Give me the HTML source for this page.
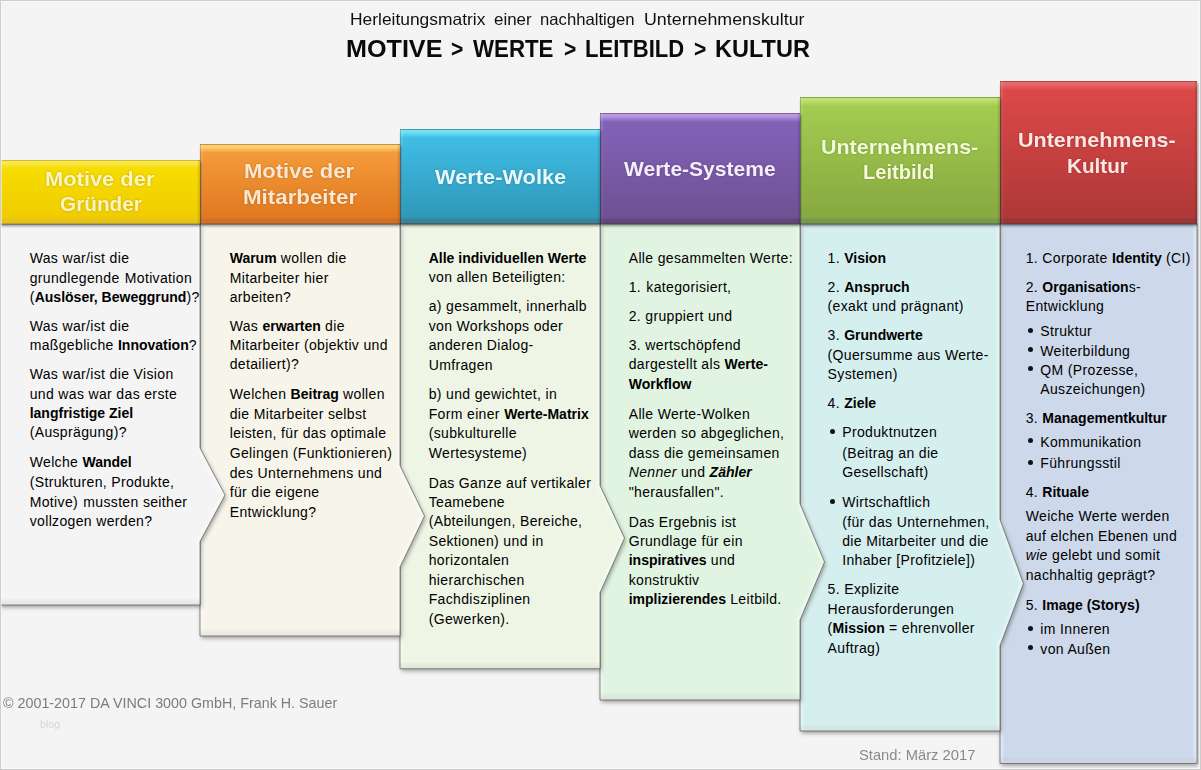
<!DOCTYPE html><html><head><meta charset="utf-8"><style>
html,body{margin:0;padding:0}
body{width:1201px;height:770px;position:relative;overflow:hidden;background:#f4f4f4;font-family:"Liberation Sans", sans-serif;}
.frame{position:absolute;left:0;top:0;width:1199px;height:768px;border:1px solid #cdcdcd;z-index:50}
.frame2{position:absolute;left:1px;top:1px;width:1197px;height:766px;border:1px solid rgba(255,255,255,.45);z-index:50}
svg{position:absolute;left:0;top:0}
.t{position:absolute;white-space:pre;font-size:14px;line-height:14px;height:14px;color:#000;}
.t .r{letter-spacing:0.35px}
.t b{letter-spacing:0px}
.wd{position:absolute;white-space:pre;transform-origin:0 0;}
.hd{position:absolute;box-sizing:border-box;}
.ht{position:absolute;white-space:pre;font-weight:bold;font-size:21.5px;line-height:21.5px;text-align:center;}
.bul{position:absolute;width:5px;height:5px;border-radius:50%;background:#111}
</style></head><body>
<div class="frame"></div><div class="frame2"></div>

<svg width="1201" height="770" viewBox="0 0 1201 770"><defs>
<filter id="bl" x="-10%" y="-10%" width="120%" height="120%"><feGaussianBlur stdDeviation="1.9"/></filter>
<filter id="bl2" x="-10%" y="-10%" width="120%" height="120%"><feGaussianBlur stdDeviation="1"/></filter>
<linearGradient id="ib" x1="0" y1="0" x2="0" y2="1"><stop offset="0" stop-color="#000" stop-opacity="0"/><stop offset="1" stop-color="#000" stop-opacity="0.09"/></linearGradient>
<linearGradient id="ir" x1="0" y1="0" x2="1" y2="0"><stop offset="0" stop-color="#000" stop-opacity="0"/><stop offset="1" stop-color="#000" stop-opacity="0.06"/></linearGradient>
<clipPath id="cp0"><path d="M-1,224 L200,224 L200,448 L225,495 L200,541.5 L200,605 L-1,605 Z"/></clipPath>
<clipPath id="cp1"><path d="M200,224 L400,224 L400,465.5 L424.5,516 L400,567 L400,636 L200,636 Z"/></clipPath>
<clipPath id="cp2"><path d="M400,224 L600,224 L600,485.5 L624.5,538 L600,592.7 L600,668.7 L400,668.7 Z"/></clipPath>
<clipPath id="cp3"><path d="M600,224 L800,224 L800,503.6 L824.5,562 L800,620 L800,700 L600,700 Z"/></clipPath>
<clipPath id="cp4"><path d="M800,224 L1000,224 L1000,519.5 L1023.4,583.6 L1000,645.7 L1000,731 L800,731 Z"/></clipPath>
<clipPath id="cp5"><path d="M1000,224 L1197,224 L1197,763.5 L1000,763.5 Z"/></clipPath>
</defs>
<path d="M1000,224 L1197,224 L1197,763.5 L1000,763.5 Z" transform="translate(1.2,2.2)" fill="#000" fill-opacity="0.36" filter="url(#bl)"/>
<path d="M1000,224 L1197,224 L1197,763.5 L1000,763.5 Z" fill="#cdd9eb"/>
<g clip-path="url(#cp5)"><path d="M1000,212 L1197,212 L1197,763.5 L1000,763.5 Z" fill="none" stroke="#fff" stroke-opacity="0.4" stroke-width="6" filter="url(#bl2)"/><rect x="1000" y="756.5" width="227" height="7" fill="url(#ib)"/></g>
<path d="M1000,224 L1197,224 L1197,763.5 L1000,763.5 Z" fill="none" stroke="#555" stroke-opacity="0.68" stroke-width="1"/>
<path d="M800,224 L1000,224 L1000,519.5 L1023.4,583.6 L1000,645.7 L1000,731 L800,731 Z" transform="translate(1.2,2.2)" fill="#000" fill-opacity="0.36" filter="url(#bl)"/>
<path d="M800,224 L1000,224 L1000,519.5 L1023.4,583.6 L1000,645.7 L1000,731 L800,731 Z" fill="#d5eeee"/>
<g clip-path="url(#cp4)"><path d="M800,212 L1000,212 L1000,519.5 L1023.4,583.6 L1000,645.7 L1000,731 L800,731 Z" fill="none" stroke="#fff" stroke-opacity="0.4" stroke-width="6" filter="url(#bl2)"/><rect x="800" y="724" width="230" height="7" fill="url(#ib)"/></g>
<path d="M800,224 L1000,224 L1000,519.5 L1023.4,583.6 L1000,645.7 L1000,731 L800,731 Z" fill="none" stroke="#555" stroke-opacity="0.68" stroke-width="1"/>
<path d="M600,224 L800,224 L800,503.6 L824.5,562 L800,620 L800,700 L600,700 Z" transform="translate(1.2,2.2)" fill="#000" fill-opacity="0.36" filter="url(#bl)"/>
<path d="M600,224 L800,224 L800,503.6 L824.5,562 L800,620 L800,700 L600,700 Z" fill="#e0f4e1"/>
<g clip-path="url(#cp3)"><path d="M600,212 L800,212 L800,503.6 L824.5,562 L800,620 L800,700 L600,700 Z" fill="none" stroke="#fff" stroke-opacity="0.4" stroke-width="6" filter="url(#bl2)"/><rect x="600" y="693" width="230" height="7" fill="url(#ib)"/></g>
<path d="M600,224 L800,224 L800,503.6 L824.5,562 L800,620 L800,700 L600,700 Z" fill="none" stroke="#555" stroke-opacity="0.68" stroke-width="1"/>
<path d="M400,224 L600,224 L600,485.5 L624.5,538 L600,592.7 L600,668.7 L400,668.7 Z" transform="translate(1.2,2.2)" fill="#000" fill-opacity="0.36" filter="url(#bl)"/>
<path d="M400,224 L600,224 L600,485.5 L624.5,538 L600,592.7 L600,668.7 L400,668.7 Z" fill="#eef5e4"/>
<g clip-path="url(#cp2)"><path d="M400,212 L600,212 L600,485.5 L624.5,538 L600,592.7 L600,668.7 L400,668.7 Z" fill="none" stroke="#fff" stroke-opacity="0.4" stroke-width="6" filter="url(#bl2)"/><rect x="400" y="661.7" width="230" height="7" fill="url(#ib)"/></g>
<path d="M400,224 L600,224 L600,485.5 L624.5,538 L600,592.7 L600,668.7 L400,668.7 Z" fill="none" stroke="#555" stroke-opacity="0.68" stroke-width="1"/>
<path d="M200,224 L400,224 L400,465.5 L424.5,516 L400,567 L400,636 L200,636 Z" transform="translate(1.2,2.2)" fill="#000" fill-opacity="0.36" filter="url(#bl)"/>
<path d="M200,224 L400,224 L400,465.5 L424.5,516 L400,567 L400,636 L200,636 Z" fill="#f7f5ea"/>
<g clip-path="url(#cp1)"><path d="M200,212 L400,212 L400,465.5 L424.5,516 L400,567 L400,636 L200,636 Z" fill="none" stroke="#fff" stroke-opacity="0.4" stroke-width="6" filter="url(#bl2)"/><rect x="200" y="629" width="230" height="7" fill="url(#ib)"/></g>
<path d="M200,224 L400,224 L400,465.5 L424.5,516 L400,567 L400,636 L200,636 Z" fill="none" stroke="#555" stroke-opacity="0.68" stroke-width="1"/>
<path d="M-1,224 L200,224 L200,448 L225,495 L200,541.5 L200,605 L-1,605 Z" transform="translate(1.2,2.2)" fill="#000" fill-opacity="0.36" filter="url(#bl)"/>
<path d="M-1,224 L200,224 L200,448 L225,495 L200,541.5 L200,605 L-1,605 Z" fill="#f4f4f4"/>
<g clip-path="url(#cp0)"><path d="M-1,212 L200,212 L200,448 L225,495 L200,541.5 L200,605 L-1,605 Z" fill="none" stroke="#fff" stroke-opacity="0.4" stroke-width="6" filter="url(#bl2)"/><rect x="-1" y="598" width="231" height="7" fill="url(#ib)"/></g>
<path d="M-1,224 L200,224 L200,448 L225,495 L200,541.5 L200,605 L-1,605 Z" fill="none" stroke="#555" stroke-opacity="0.68" stroke-width="1"/>
</svg>
<div class="hd" style="left:-1px;top:160px;width:201px;height:64px;background:linear-gradient(180deg,#a89018 0px,#fae84a 1px,#fae84a 3px,#f6dc00 9px,#f0cc00 calc(100% - 6px),#e6c21c calc(100% - 5px),#e6c21c calc(100% - 1.5px),#a89018 100%);box-shadow:1px 2px 2.5px rgba(0,0,0,.42), inset 1px 0 0 rgba(0,0,0,.18), inset 3px 0 2px rgba(255,255,255,.12), inset -2px 0 1px rgba(0,0,0,.12);z-index:20"></div>
<div class="wd" style="left:45.30px;top:168.02px;font-size:21px;line-height:21px;font-weight:bold;color:#fdf5c0;transform:scaleX(1.0419);z-index:30;text-shadow:0 0 2px rgba(0,0,0,.28)">Motive der</div>
<div class="wd" style="left:60.00px;top:193.02px;font-size:21px;line-height:21px;font-weight:bold;color:#fdf5c0;transform:scaleX(0.9880);z-index:30;text-shadow:0 0 2px rgba(0,0,0,.28)">Gründer</div>
<div class="hd" style="left:200px;top:144px;width:200px;height:80px;background:linear-gradient(180deg,#905020 0px,#fcd070 1px,#fcd070 3px,#f49a3a 9px,#e07820 calc(100% - 6px),#d07028 calc(100% - 5px),#d07028 calc(100% - 1.5px),#905020 100%);box-shadow:1px 2px 2.5px rgba(0,0,0,.42), inset 1px 0 0 rgba(0,0,0,.18), inset 3px 0 2px rgba(255,255,255,.12), inset -2px 0 1px rgba(0,0,0,.12);z-index:19"></div>
<div class="wd" style="left:244.00px;top:159.72px;font-size:21px;line-height:21px;font-weight:bold;color:#fde7cc;transform:scaleX(1.0476);z-index:30;text-shadow:0 0 2px rgba(0,0,0,.28)">Motive der</div>
<div class="wd" style="left:243.00px;top:185.92px;font-size:21px;line-height:21px;font-weight:bold;color:#fde7cc;transform:scaleX(1.0626);z-index:30;text-shadow:0 0 2px rgba(0,0,0,.28)">Mitarbeiter</div>
<div class="hd" style="left:400px;top:129px;width:200px;height:95px;background:linear-gradient(180deg,#2a5060 0px,#72e2f6 1px,#72e2f6 3px,#40bce4 9px,#2e98b8 calc(100% - 6px),#3a8098 calc(100% - 5px),#3a8098 calc(100% - 1.5px),#2a5060 100%);box-shadow:1px 2px 2.5px rgba(0,0,0,.42), inset 1px 0 0 rgba(0,0,0,.18), inset 3px 0 2px rgba(255,255,255,.12), inset -2px 0 1px rgba(0,0,0,.12);z-index:18"></div>
<div class="wd" style="left:435.00px;top:165.52px;font-size:21px;line-height:21px;font-weight:bold;color:#e8f8fc;transform:scaleX(1.0381);z-index:30;text-shadow:0 0 2px rgba(0,0,0,.28)">Werte-Wolke</div>
<div class="hd" style="left:600px;top:113px;width:200px;height:111px;background:linear-gradient(180deg,#483458 0px,#b898e0 1px,#b898e0 3px,#8262b8 9px,#6e5094 calc(100% - 6px),#604878 calc(100% - 5px),#604878 calc(100% - 1.5px),#483458 100%);box-shadow:1px 2px 2.5px rgba(0,0,0,.42), inset 1px 0 0 rgba(0,0,0,.18), inset 3px 0 2px rgba(255,255,255,.12), inset -2px 0 1px rgba(0,0,0,.12);z-index:17"></div>
<div class="wd" style="left:624.00px;top:157.72px;font-size:21px;line-height:21px;font-weight:bold;color:#f6eefa;transform:scaleX(1.0020);z-index:30;text-shadow:0 0 2px rgba(0,0,0,.28)">Werte-Systeme</div>
<div class="hd" style="left:800px;top:97px;width:200px;height:127px;background:linear-gradient(180deg,#506830 0px,#c0e070 1px,#c0e070 3px,#a2cc50 9px,#88a840 calc(100% - 6px),#789850 calc(100% - 5px),#789850 calc(100% - 1.5px),#506830 100%);box-shadow:1px 2px 2.5px rgba(0,0,0,.42), inset 1px 0 0 rgba(0,0,0,.18), inset 3px 0 2px rgba(255,255,255,.12), inset -2px 0 1px rgba(0,0,0,.12);z-index:16"></div>
<div class="wd" style="left:820.70px;top:135.52px;font-size:21px;line-height:21px;font-weight:bold;color:#f4fad8;transform:scaleX(1.0208);z-index:30;text-shadow:0 0 2px rgba(0,0,0,.28)">Unternehmens-</div>
<div class="wd" style="left:863.00px;top:161.42px;font-size:21px;line-height:21px;font-weight:bold;color:#f4fad8;transform:scaleX(0.9560);z-index:30;text-shadow:0 0 2px rgba(0,0,0,.28)">Leitbild</div>
<div class="hd" style="left:1000px;top:81px;width:197px;height:143px;background:linear-gradient(180deg,#702828 0px,#e86a6a 1px,#e86a6a 3px,#dc4848 9px,#b03838 calc(100% - 6px),#983838 calc(100% - 5px),#983838 calc(100% - 1.5px),#702828 100%);box-shadow:1px 2px 2.5px rgba(0,0,0,.42), inset 1px 0 0 rgba(0,0,0,.18), inset 3px 0 2px rgba(255,255,255,.12), inset -2px 0 1px rgba(0,0,0,.12);z-index:15"></div>
<div class="wd" style="left:1018.40px;top:128.82px;font-size:21px;line-height:21px;font-weight:bold;color:#fbe6e2;transform:scaleX(1.0234);z-index:30;text-shadow:0 0 2px rgba(0,0,0,.28)">Unternehmens-</div>
<div class="wd" style="left:1066.70px;top:154.92px;font-size:21px;line-height:21px;font-weight:bold;color:#fbe6e2;transform:scaleX(0.9839);z-index:30;text-shadow:0 0 2px rgba(0,0,0,.28)">Kultur</div>
<div class="wd" style="left:350.00px;top:11.03px;font-size:16.5px;line-height:16.5px;font-weight:normal;color:#111;transform:scaleX(1.0543);">Herleitungsmatrix</div>
<div class="wd" style="left:494.00px;top:11.03px;font-size:16.5px;line-height:16.5px;font-weight:normal;color:#111;transform:scaleX(1.0270);">einer</div>
<div class="wd" style="left:540.00px;top:11.03px;font-size:16.5px;line-height:16.5px;font-weight:normal;color:#111;transform:scaleX(1.0106);">nachhaltigen</div>
<div class="wd" style="left:644.00px;top:11.03px;font-size:16.5px;line-height:16.5px;font-weight:normal;color:#111;transform:scaleX(1.0805);">Unternehmenskultur</div>
<div class="wd" style="left:345.50px;top:36.76px;font-size:24.5px;line-height:24.5px;font-weight:bold;color:#0a0a0a;transform:scaleX(1.0266);">MOTIVE</div>
<div class="wd" style="left:451.00px;top:36.76px;font-size:24.5px;line-height:24.5px;font-weight:bold;color:#0a0a0a;transform:scaleX(0.8571);">&gt;</div>
<div class="wd" style="left:473.00px;top:36.76px;font-size:24.5px;line-height:24.5px;font-weight:bold;color:#0a0a0a;transform:scaleX(0.9091);">WERTE</div>
<div class="wd" style="left:564.00px;top:36.76px;font-size:24.5px;line-height:24.5px;font-weight:bold;color:#0a0a0a;transform:scaleX(0.8571);">&gt;</div>
<div class="wd" style="left:585.00px;top:36.76px;font-size:24.5px;line-height:24.5px;font-weight:bold;color:#0a0a0a;transform:scaleX(0.9000);">LEITBILD</div>
<div class="wd" style="left:694.00px;top:36.76px;font-size:24.5px;line-height:24.5px;font-weight:bold;color:#0a0a0a;transform:scaleX(0.8571);">&gt;</div>
<div class="wd" style="left:715.00px;top:36.76px;font-size:24.5px;line-height:24.5px;font-weight:bold;color:#0a0a0a;transform:scaleX(0.9596);">KULTUR</div>
<div class="t" style="left:29.7px;top:251.45px"><span class="r">Was war/ist die</span></div>
<div class="t" style="left:29.7px;top:270.75px"><span class="r">grundlegende <span style="margin-left:1px"></span>Motivation</span></div>
<div class="t" style="left:29.7px;top:290.25px"><span class="r">(</span><b>Auslöser, Beweggrund</b><span class="r">)?</span></div>
<div class="t" style="left:29.7px;top:319.45px"><span class="r">Was war/ist die</span></div>
<div class="t" style="left:29.7px;top:338.35px"><span class="r">maßgebliche </span><b>Innovation</b><span class="r">?</span></div>
<div class="t" style="left:29.7px;top:367.45px"><span class="r">Was war/ist die Vision</span></div>
<div class="t" style="left:29.7px;top:386.85px"><span class="r">und was war das erste</span></div>
<div class="t" style="left:29.7px;top:405.95px"><b>langfristige Ziel</b></div>
<div class="t" style="left:29.7px;top:425.35px"><span class="r">(Ausprägung)?</span></div>
<div class="t" style="left:29.7px;top:455.45px"><span class="r">Welche </span><b>Wandel</b></div>
<div class="t" style="left:29.7px;top:474.95px"><span class="r">(Strukturen, Produkte,</span></div>
<div class="t" style="left:29.7px;top:494.75px"><span class="r">Motive) <span style="margin-left:1px"></span>mussten seither</span></div>
<div class="t" style="left:29.7px;top:513.65px"><span class="r">vollzogen werden?</span></div>
<div class="t" style="left:229.7px;top:251.05px"><b>Warum</b><span class="r"> wollen die</span></div>
<div class="t" style="left:229.7px;top:270.75px"><span class="r">Mitarbeiter hier</span></div>
<div class="t" style="left:229.7px;top:290.25px"><span class="r">arbeiten?</span></div>
<div class="t" style="left:229.7px;top:319.45px"><span class="r">Was </span><b>erwarten</b><span class="r"> die</span></div>
<div class="t" style="left:229.7px;top:338.35px"><span class="r">Mitarbeiter (objektiv und</span></div>
<div class="t" style="left:229.7px;top:357.45px"><span class="r">detailiert)?</span></div>
<div class="t" style="left:229.7px;top:387.25px"><span class="r">Welchen </span><b>Beitrag</b><span class="r"> wollen</span></div>
<div class="t" style="left:229.7px;top:406.55px"><span class="r">die Mitarbeiter selbst</span></div>
<div class="t" style="left:229.7px;top:426.15px"><span class="r">leisten, für das optimale</span></div>
<div class="t" style="left:229.7px;top:445.85px"><span class="r">Gelingen (Funktionieren)</span></div>
<div class="t" style="left:229.7px;top:465.85px"><span class="r">des Unternehmens und</span></div>
<div class="t" style="left:229.7px;top:484.95px"><span class="r">für die eigene</span></div>
<div class="t" style="left:229.7px;top:504.75px"><span class="r">Entwicklung?</span></div>
<div class="t" style="left:428.7px;top:251.05px"><b>Alle individuellen Werte</b></div>
<div class="t" style="left:428.7px;top:270.15px"><span class="r">von allen Beteiligten:</span></div>
<div class="t" style="left:428.7px;top:299.25px"><span class="r">a) gesammelt, innerhalb</span></div>
<div class="t" style="left:428.7px;top:318.95px"><span class="r">von Workshops oder</span></div>
<div class="t" style="left:428.7px;top:338.35px"><span class="r">anderen Dialog-</span></div>
<div class="t" style="left:428.7px;top:357.85px"><span class="r">Umfragen</span></div>
<div class="t" style="left:428.7px;top:387.25px"><span class="r">b) und gewichtet, in</span></div>
<div class="t" style="left:428.7px;top:406.55px"><span class="r">Form einer </span><b>Werte-Matrix</b></div>
<div class="t" style="left:428.7px;top:426.15px"><span class="r">(subkulturelle</span></div>
<div class="t" style="left:428.7px;top:445.85px"><span class="r">Wertesysteme)</span></div>
<div class="t" style="left:428.7px;top:475.55px"><span class="r">Das Ganze auf vertikaler</span></div>
<div class="t" style="left:428.7px;top:494.95px"><span class="r">Teamebene</span></div>
<div class="t" style="left:428.7px;top:514.05px"><span class="r">(Abteilungen, Bereiche,</span></div>
<div class="t" style="left:428.7px;top:533.85px"><span class="r">Sektionen) und in</span></div>
<div class="t" style="left:428.7px;top:552.95px"><span class="r">horizontalen</span></div>
<div class="t" style="left:428.7px;top:572.75px"><span class="r">hierarchischen</span></div>
<div class="t" style="left:428.7px;top:592.05px"><span class="r">Fachdisziplinen</span></div>
<div class="t" style="left:428.7px;top:611.55px"><span class="r">(Gewerken).</span></div>
<div class="t" style="left:628.7px;top:251.05px"><span class="r">Alle gesammelten Werte:</span></div>
<div class="t" style="left:628.7px;top:280.15px"><span class="r">1. <span style="margin-left:1px"></span>kategorisiert,</span></div>
<div class="t" style="left:628.7px;top:309.25px"><span class="r">2. gruppiert und</span></div>
<div class="t" style="left:628.7px;top:338.35px"><span class="r">3. wertschöpfend</span></div>
<div class="t" style="left:628.7px;top:357.45px"><span class="r">dargestellt als </span><b>Werte-</b></div>
<div class="t" style="left:628.7px;top:376.75px"><b>Workflow</b></div>
<div class="t" style="left:628.7px;top:406.55px"><span class="r">Alle Werte-Wolken</span></div>
<div class="t" style="left:628.7px;top:425.95px"><span class="r">werden so abgeglichen,</span></div>
<div class="t" style="left:628.7px;top:446.15px"><span class="r">dass die gemeinsamen</span></div>
<div class="t" style="left:628.7px;top:465.45px"><i class="r">Nenner</i><span class="r"> und </span><b><i>Zähler</i></b></div>
<div class="t" style="left:628.7px;top:484.95px"><span class="r">&quot;herausfallen&quot;.</span></div>
<div class="t" style="left:628.7px;top:514.55px"><span class="r">Das Ergebnis ist</span></div>
<div class="t" style="left:628.7px;top:533.85px"><span class="r">Grundlage für ein</span></div>
<div class="t" style="left:628.7px;top:552.95px"><b>inspiratives</b><span class="r"> und</span></div>
<div class="t" style="left:628.7px;top:572.75px"><span class="r">konstruktiv</span></div>
<div class="t" style="left:628.7px;top:592.05px"><b>implizierendes</b><span class="r"> Leitbild.</span></div>
<div class="t" style="left:827.6px;top:251.05px"><span class="r">1. </span><b>Vision</b></div>
<div class="t" style="left:827.6px;top:280.15px"><span class="r">2. </span><b>Anspruch</b></div>
<div class="t" style="left:827.6px;top:299.25px"><span class="r">(exakt und prägnant)</span></div>
<div class="t" style="left:827.6px;top:328.35px"><span class="r">3. </span><b>Grundwerte</b></div>
<div class="t" style="left:827.6px;top:348.05px"><span class="r">(Quersumme aus Werte-</span></div>
<div class="t" style="left:827.6px;top:366.85px"><span class="r">Systemen)</span></div>
<div class="t" style="left:827.6px;top:396.25px"><span class="r">4. </span><b>Ziele</b></div>
<div class="t" style="left:842.2px;top:425.35px"><span class="r">Produktnutzen</span></div>
<div class="t" style="left:842.2px;top:446.15px"><span class="r">(Beitrag an die</span></div>
<div class="t" style="left:842.2px;top:464.85px"><span class="r">Gesellschaft)</span></div>
<div class="t" style="left:842.2px;top:494.95px"><span class="r">Wirtschaftlich</span></div>
<div class="t" style="left:842.2px;top:514.75px"><span class="r">(für das Unternehmen,</span></div>
<div class="t" style="left:842.2px;top:533.95px"><span class="r">die Mitarbeiter und die</span></div>
<div class="t" style="left:842.2px;top:553.25px"><span class="r">Inhaber [Profitziele])</span></div>
<div class="t" style="left:827.6px;top:582.35px"><span class="r">5. Explizite</span></div>
<div class="t" style="left:827.6px;top:602.15px"><span class="r">Herausforderungen</span></div>
<div class="t" style="left:827.6px;top:621.45px"><span class="r">(</span><b>Mission</b><span class="r"> = ehrenvoller</span></div>
<div class="t" style="left:827.6px;top:640.55px"><span class="r">Auftrag)</span></div>
<div class="t" style="left:1025.7px;top:251.05px"><span class="r">1. Corporate </span><b>Identity</b><span class="r"> (CI)</span></div>
<div class="t" style="left:1025.7px;top:280.15px"><span class="r">2. </span><b>Organisation</b><span class="r">s-</span></div>
<div class="t" style="left:1025.7px;top:299.25px"><span class="r">Entwicklung</span></div>
<div class="t" style="left:1040.3px;top:324.15px"><span class="r">Struktur</span></div>
<div class="t" style="left:1040.3px;top:343.55px"><span class="r">Weiterbildung</span></div>
<div class="t" style="left:1040.3px;top:362.55px"><span class="r">QM (Prozesse,</span></div>
<div class="t" style="left:1040.3px;top:381.95px"><span class="r">Auszeichungen)</span></div>
<div class="t" style="left:1025.7px;top:410.75px"><span class="r">3. </span><b>Managementkultur</b></div>
<div class="t" style="left:1040.3px;top:434.65px"><span class="r">Kommunikation</span></div>
<div class="t" style="left:1040.3px;top:455.85px"><span class="r">Führungsstil</span></div>
<div class="t" style="left:1025.7px;top:484.55px"><span class="r">4. </span><b>Rituale</b></div>
<div class="t" style="left:1025.7px;top:508.55px"><span class="r">Weiche Werte werden</span></div>
<div class="t" style="left:1025.7px;top:529.05px"><span class="r">auf elchen Ebenen und</span></div>
<div class="t" style="left:1025.7px;top:548.45px"><i class="r">wie</i><span class="r"> gelebt und somit</span></div>
<div class="t" style="left:1025.7px;top:567.85px"><span class="r">nachhaltig geprägt?</span></div>
<div class="t" style="left:1025.7px;top:597.55px"><span class="r">5. </span><b>Image (Storys)</b></div>
<div class="t" style="left:1040.3px;top:621.85px"><span class="r">im Inneren</span></div>
<div class="t" style="left:1040.3px;top:641.55px"><span class="r">von Außen</span></div>
<div class="bul" style="left:830.0px;top:429.1px"></div>
<div class="bul" style="left:830.0px;top:498.7px"></div>
<div class="bul" style="left:1028.0px;top:327.9px"></div>
<div class="bul" style="left:1028.0px;top:347.3px"></div>
<div class="bul" style="left:1028.0px;top:366.3px"></div>
<div class="bul" style="left:1028.0px;top:438.4px"></div>
<div class="bul" style="left:1028.0px;top:459.6px"></div>
<div class="bul" style="left:1028.0px;top:625.6px"></div>
<div class="bul" style="left:1028.0px;top:645.3px"></div>
<div class="wd" style="left:2.70px;top:696.40px;font-size:14.3px;line-height:14.3px;font-weight:normal;color:#7c7c7c;transform:scaleX(1.0009);">© 2001-2017 DA VINCI 3000 GmbH, Frank H. Sauer</div>
<div class="wd" style="left:39.70px;top:719.11px;font-size:10.5px;line-height:10.5px;font-weight:normal;color:#d6d6d6;transform:scaleX(1.0150);">blog</div>
<div class="wd" style="left:859.00px;top:747.90px;font-size:14.3px;line-height:14.3px;font-weight:normal;color:#8a8a8a;transform:scaleX(1.0310);">Stand: März 2017</div>
</body></html>
